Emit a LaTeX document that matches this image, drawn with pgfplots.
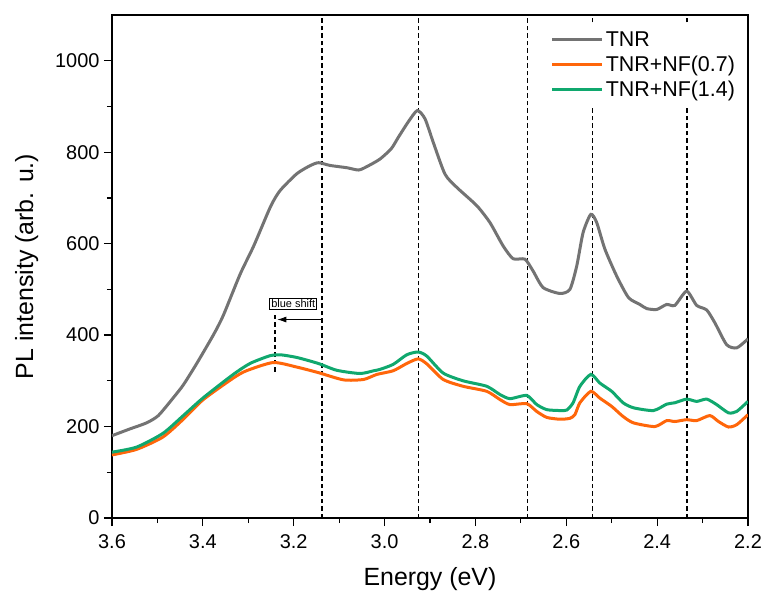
\documentclass[border=0pt]{standalone}
\usepackage{fontspec}
\setmainfont{Liberation Sans}
\usepackage{pgfplots}
\pgfplotsset{compat=1.18}
\usetikzlibrary{arrows.meta}
\definecolor{cgray}{RGB}{115,115,115}
\definecolor{corange}{RGB}{255,102,10}
\definecolor{cgreen}{RGB}{16,168,110}
\begin{document}
\begin{tikzpicture}
\begin{axis}[
  scale only axis,
  width=636bp, height=503bp,
  x dir=reverse,
  xmin=2.2, xmax=3.6, ymin=0, ymax=1100,
  xtick={2.2,2.4,...,3.6},
  ytick={0,200,...,1000},
  minor x tick num=1, minor y tick num=1,
  tick align=outside,
  xtick pos=bottom, ytick pos=left,
  major tick length=8bp, minor tick length=5bp,
  every tick/.style={black, line width=1.2bp},
  axis line style={line width=1.5bp},
  /pgf/number format/assume math mode=true,
  /pgf/number format/1000 sep={},
  xticklabel style={/pgf/number format/fixed, /pgf/number format/fixed zerofill, /pgf/number format/precision=1, yshift=-5bp},
  yticklabel style={xshift=-1bp},
  tick label style={font=\fontsize{20}{23}\selectfont},
  label style={font=\fontsize{25}{29}\selectfont},
  xlabel={Energy (eV)},
  ylabel={PL intensity (arb. u.)},
  xlabel style={yshift=-12bp},
  ylabel style={yshift=10bp},
  legend style={at={(0.986,0.975)}, anchor=north east, draw=none, fill=white,
    font=\fontsize{21.5}{26}\selectfont, row sep=4bp, inner sep=2bp},
  legend cell align=left,
  legend image code/.code={\draw[#1] (0bp,0bp) -- (50bp,0bp);},
]
% dashed guide lines
\addplot[forget plot, black, line width=1.3bp, dash pattern=on 4.5bp off 3bp] coordinates {(3.138,0) (3.138,1100)};
\addplot[forget plot, black, line width=1.3bp, dash pattern=on 4.5bp off 3bp] coordinates {(2.926,0) (2.926,1100)};
\addplot[forget plot, black, line width=1.3bp, dash pattern=on 4.5bp off 3bp] coordinates {(2.686,0) (2.686,1100)};
\addplot[forget plot, black, line width=1.3bp, dash pattern=on 4.5bp off 3bp] coordinates {(2.543,0) (2.543,897)};
\addplot[forget plot, black, line width=1.3bp, dash pattern=on 4.5bp off 3bp] coordinates {(2.334,0) (2.334,897)};
\addplot[forget plot, black, line width=1.3bp, dash pattern=on 4.5bp off 3bp] coordinates {(2.543,1084) (2.543,1100)};
\addplot[forget plot, black, line width=1.3bp, dash pattern=on 4.5bp off 3bp] coordinates {(2.334,1084) (2.334,1100)};
\addplot[forget plot, black, line width=1.3bp, dash pattern=on 4.5bp off 3bp] coordinates {(3.241,320) (3.241,451)};
\addplot[forget plot, black, line width=0.8bp, -{Latex[length=9bp,width=6bp]}] coordinates {(3.138,434) (3.236,434)};
\node[draw=black, fill=white, inner sep=1.5bp, line width=0.7bp, font=\fontsize{11}{13}\selectfont] at (axis cs:3.201,469) {blue shift};

\addplot[cgray, line width=3bp, smooth, tension=0.4] coordinates {
(3.600,180) (3.560,195) (3.524,208) (3.498,224) (3.465,263) (3.443,291) (3.414,337)
(3.377,400) (3.355,443) (3.318,533) (3.288,595) (3.251,681) (3.230,716) (3.193,753)
(3.163,771) (3.145,777) (3.120,771) (3.083,766) (3.057,761) (3.038,769) (3.010,785)
(2.985,808) (2.970,832) (2.948,866) (2.928,891) (2.911,873) (2.893,822) (2.867,752)
(2.841,723) (2.797,683) (2.768,646) (2.739,595) (2.717,567) (2.691,566) (2.673,540)
(2.651,504) (2.614,491) (2.592,500) (2.577,551) (2.563,624) (2.546,664) (2.533,646)
(2.515,588) (2.489,529) (2.463,482) (2.438,467) (2.423,458) (2.401,456) (2.379,467)
(2.361,465) (2.335,496) (2.313,465) (2.291,455) (2.273,427) (2.247,379) (2.225,372)
(2.203,389) (2.200,392)};
\addlegendentry{TNR}

\addplot[corange, line width=3bp, smooth, tension=0.4] coordinates {
(3.600,138) (3.546,150) (3.488,177) (3.443,216) (3.399,259) (3.333,306) (3.304,322)
(3.245,340) (3.193,330) (3.146,318) (3.090,302) (3.046,303) (3.017,314) (2.981,322)
(2.951,338) (2.926,348) (2.907,337) (2.871,303) (2.827,288) (2.775,277) (2.746,259)
(2.724,248) (2.687,250) (2.665,233) (2.643,220) (2.614,216) (2.592,218) (2.581,226)
(2.570,252) (2.546,277) (2.526,262) (2.500,244) (2.475,222) (2.452,208) (2.405,200)
(2.379,213) (2.361,211) (2.335,215) (2.313,213) (2.284,224) (2.265,211) (2.243,199)
(2.225,204) (2.200,226)};
\addlegendentry{TNR+NF(0.7)}

\addplot[cgreen, line width=3bp, smooth, tension=0.4] coordinates {
(3.600,144) (3.546,155) (3.488,185) (3.443,224) (3.399,263) (3.333,314) (3.296,338)
(3.252,355) (3.230,357) (3.193,351) (3.146,338) (3.105,323) (3.054,316) (3.024,322)
(3.010,325) (2.981,336) (2.951,357) (2.926,363) (2.907,354) (2.871,317) (2.827,300)
(2.775,288) (2.746,270) (2.724,261) (2.687,268) (2.665,248) (2.643,237) (2.614,235)
(2.599,236) (2.585,252) (2.570,288) (2.546,314) (2.526,295) (2.500,277) (2.475,252)
(2.452,241) (2.408,235) (2.379,249) (2.361,252) (2.335,260) (2.313,255) (2.291,260)
(2.269,248) (2.243,230) (2.225,233) (2.200,255)};
\addlegendentry{TNR+NF(1.4)}
\end{axis}
\pgfresetboundingbox
\path[use as bounding box] ([xshift=-112bp,yshift=-81bp]current axis.south west) rectangle ([xshift=18bp,yshift=15bp]current axis.north east);
\end{tikzpicture}
\end{document}
